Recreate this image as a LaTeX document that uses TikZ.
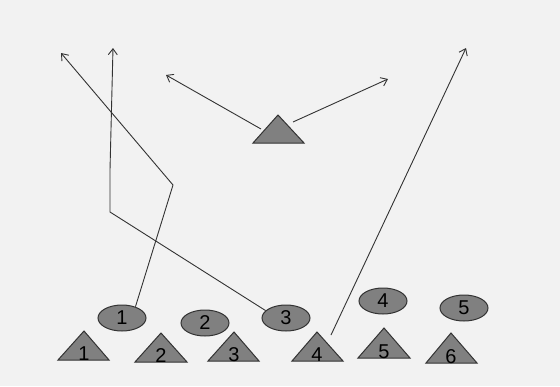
\documentclass[tikz,border=0pt]{standalone}
\usepackage{fontspec}
\setmainfont{Liberation Sans}
\usetikzlibrary{shapes.geometric,arrows.meta}
\definecolor{bg}{HTML}{F2F2F2}
\definecolor{ink}{HTML}{333333}
\definecolor{shade}{HTML}{808080}
\tikzset{
  player/.style={ellipse,draw=ink,line width=1pt,fill=shade,minimum width=48pt,minimum height=26pt,inner sep=0pt,font=\fontsize{20}{20}\selectfont},
  tri/.style={draw=ink,line width=1pt,fill=shade,line join=miter},
  trilabel/.style={inner sep=0pt,font=\fontsize{20}{20}\selectfont,anchor=base},
  route/.style={draw=ink,line width=0.9pt},
  runarrow/.style={route,-{Straight Barb[length=6pt,width=9pt]}}
}
\begin{document}
\begin{tikzpicture}[x=1pt,y=-1pt]
\fill[bg] (0,0) rectangle (560,386);
\useasboundingbox (0,0) rectangle (560,386);
% circles
\node[player] (c1) at (122,318) {1};
\node[player] (c2) at (205,323) {2};
\node[player] (c3) at (286,318) {3};
\node[player] (c4) at (383,301) {4};
\node[player] (c5) at (464,308) {5};
% triangles
\draw[tri] (58,360) -- (84,331) -- (109,360) -- cycle;
\node[trilabel] (t1) at (84,360) {1};
\draw[tri] (135,362) -- (161,333) -- (187,362) -- cycle;
\node[trilabel] (t2) at (161,362) {2};
\draw[tri] (208,361) -- (234,332) -- (259,361) -- cycle;
\node[trilabel] (t3) at (234,361) {3};
\draw[tri] (292,361) -- (317,332) -- (343,361) -- cycle;
\node[trilabel] (t4) at (317,361) {4};
\draw[tri] (358,358) -- (384,328) -- (410,358) -- cycle;
\node[trilabel] (t5) at (384,358) {5};
\draw[tri] (426,363) -- (451,333) -- (477,363) -- cycle;
\node[trilabel] (t6) at (451,363) {6};
\draw[tri] (253,143) -- (278,115) -- (304,143) -- cycle;
% coordinates
\coordinate (t4r) at (331,335);
\coordinate (qbl) at (261,129);
\coordinate (qbr) at (293,122);
\coordinate (k1) at (173,185);
\coordinate (e1) at (61,53);
\coordinate (k3a) at (110,212);
\coordinate (k3b) at (110,170);
\coordinate (e3) at (113,48);
\coordinate (eL) at (166,75);
\coordinate (eR) at (388,79);
\coordinate (e4) at (466,48);
% routes
\draw[runarrow] (c1.40) -- (k1) -- (e1);
\draw[runarrow] (c3.160) -- (k3a) -- (k3b) -- (e3);
\draw[runarrow] (qbl) -- (eL);
\draw[runarrow] (qbr) -- (eR);
\draw[runarrow] (t4r) -- (e4);
\end{tikzpicture}
\end{document}
